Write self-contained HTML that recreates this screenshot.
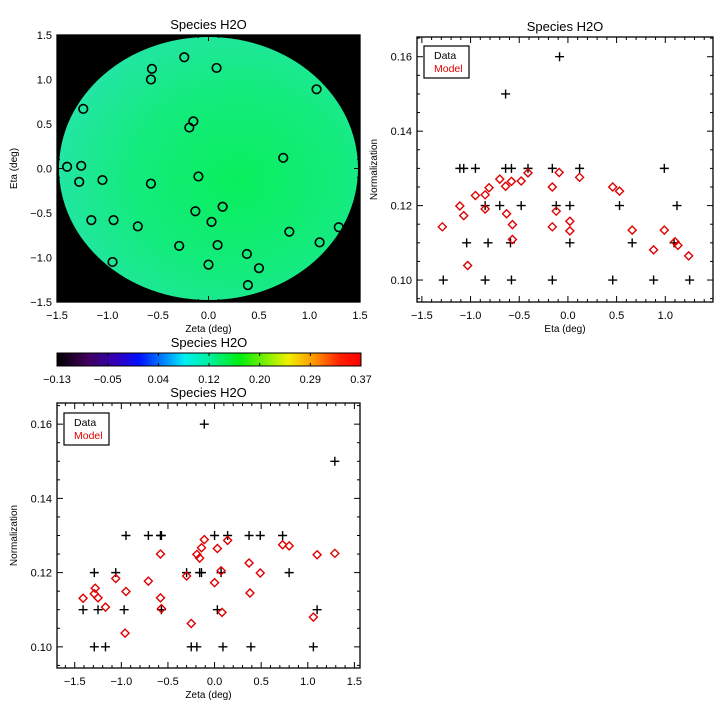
<!DOCTYPE html>
<html><head><meta charset="utf-8">
<style>
html,body{margin:0;padding:0;background:#fff;width:720px;height:720px;overflow:hidden}
svg text{font-family:"Liberation Sans","DejaVu Sans",sans-serif}
</style></head>
<body>
<svg id="root" width="720" height="720" viewBox="0 0 720 720">
<defs>
<radialGradient id="mapgrad" cx="0.6" cy="0.55" r="0.6">
<stop offset="0" stop-color="#08ef5c"/>
<stop offset="0.6" stop-color="#14eb7e"/>
<stop offset="1" stop-color="#22e6a2"/>
</radialGradient>
<linearGradient id="cbgrad" x1="0" x2="1" y1="0" y2="0">
<stop offset="0" stop-color="#000000"/>
<stop offset="0.1" stop-color="#40005a"/>
<stop offset="0.2" stop-color="#3000c0"/>
<stop offset="0.27" stop-color="#0010ff"/>
<stop offset="0.37" stop-color="#00a0ff"/>
<stop offset="0.42" stop-color="#00f0f0"/>
<stop offset="0.5" stop-color="#00f0a0"/>
<stop offset="0.6" stop-color="#00ee10"/>
<stop offset="0.7" stop-color="#90f000"/>
<stop offset="0.76" stop-color="#f0f000"/>
<stop offset="0.85" stop-color="#ff9000"/>
<stop offset="0.93" stop-color="#ff2000"/>
<stop offset="1" stop-color="#ff0000"/>
</linearGradient>
</defs>
</svg>
<script>
// ---- map panel data (star positions) ----
const mapZeta = [-0.24,-0.56,-0.57,0.08,1.07,-1.24,-0.15,-0.19,-1.40,-1.26,-1.28,-1.05,-0.57,-0.10,0.74,-1.16,-0.94,-0.70,-0.13,0.14,0.03,0.80,1.29,1.10,-0.29,0.09,0.38,-0.95,0.00,0.50,0.39];
const mapEta  = [1.25,1.12,1.00,1.13,0.89,0.67,0.53,0.46,0.02,0.03,-0.15,-0.13,-0.17,-0.09,0.12,-0.58,-0.58,-0.65,-0.48,-0.43,-0.60,-0.71,-0.66,-0.83,-0.87,-0.86,-0.96,-1.05,-1.08,-1.12,-1.31];
const mapTicks = [-1.5,-1.0,-0.5,0.0,0.5,1.0,1.5];
const cbLabels = ["-0.13","-0.05","0.04","0.12","0.20","0.29","0.37"];
// ---- eta panel ----
const etaDataX = [-1.28,-1.11,-1.07,-1.04,-0.95,-0.85,-0.85,-0.82,-0.64,-0.58,-0.64,-0.70,-0.59,-0.58,-0.48,-0.41,-0.16,-0.16,-0.12,-0.086,0.02,0.02,0.12,0.46,0.53,0.66,0.88,0.99,1.12,1.09,1.25];
const etaDataY = [0.10,0.13,0.13,0.11,0.13,0.12,0.10,0.11,0.13,0.13,0.15,0.12,0.11,0.10,0.12,0.13,0.13,0.10,0.12,0.16,0.12,0.11,0.13,0.10,0.12,0.11,0.10,0.13,0.12,0.11,0.10];
const etaModelX = [-1.29,-1.11,-1.07,-1.03,-0.95,-0.85,-0.85,-0.81,-0.70,-0.64,-0.63,-0.58,-0.57,-0.57,-0.48,-0.41,-0.16,-0.16,-0.12,-0.09,0.02,0.02,0.12,0.46,0.53,0.66,0.88,0.99,1.10,1.13,1.24];
const etaModelY = [0.1143,0.1199,0.1173,0.1039,0.1227,0.1229,0.1191,0.1248,0.1271,0.1252,0.1178,0.1265,0.1149,0.1109,0.1266,0.1288,0.1250,0.1143,0.1185,0.1289,0.1158,0.1132,0.1276,0.1250,0.1239,0.1134,0.1081,0.1134,0.1103,0.1093,0.1065];
// ---- zeta panel ----
const zetaDataX = [-1.41,-1.29,-1.29,-1.25,-1.17,-1.06,-0.97,-0.95,-0.71,-0.58,-0.57,-0.57,-0.30,-0.25,-0.19,-0.16,-0.14,-0.11,0.00,0.03,0.07,0.09,0.14,0.37,0.39,0.49,0.73,0.80,1.06,1.10,1.29];
const zetaDataY = [0.11,0.12,0.10,0.11,0.10,0.12,0.11,0.13,0.13,0.13,0.11,0.13,0.12,0.10,0.10,0.12,0.12,0.16,0.13,0.11,0.12,0.10,0.13,0.13,0.10,0.13,0.13,0.12,0.10,0.11,0.15];
const zetaModelX = [-1.41,-1.29,-1.28,-1.25,-1.17,-1.06,-0.96,-0.95,-0.71,-0.58,-0.58,-0.57,-0.30,-0.25,-0.19,-0.16,-0.14,-0.11,0.00,0.03,0.07,0.08,0.14,0.37,0.38,0.49,0.73,0.80,1.06,1.10,1.29];
const zetaModelY = [0.1131,0.1143,0.1158,0.1132,0.1107,0.1184,0.1037,0.1149,0.1177,0.1250,0.1132,0.1103,0.1191,0.1063,0.1249,0.1239,0.1267,0.1289,0.1173,0.1265,0.1205,0.1093,0.1287,0.1226,0.1145,0.1199,0.1275,0.1272,0.1080,0.1248,0.1252];
const normTicks = [0.10,0.12,0.14,0.16];
const etaTicks = [-1.5,-1.0,-0.5,0.0,0.5,1.0];
const zetaTicks = [-1.5,-1.0,-0.5,0.0,0.5,1.0,1.5];

const NS="http://www.w3.org/2000/svg";
const root=document.getElementById('root');
function mk(tag,attrs,parent){const e=document.createElementNS(NS,tag);for(const k in attrs)e.setAttribute(k,attrs[k]);(parent||root).appendChild(e);return e;}
function fmt(v,d){return v.toFixed(d).replace('-','\u2212');}
function lin(d0,d1,r0,r1){return v=>r0+(v-d0)*(r1-r0)/(d1-d0);}

function axesBox(x0,y0,x1,y1,sx,sy,xr,yr,xMaj,xMin,yMaj,yMin,yDec,xLab,yLab,title,name){
  const g=mk('g',{});
  
  
  const r=mk('rect',{x:x0,y:y0,width:x1-x0,height:y1-y0,fill:'none',stroke:'#000','stroke-width':1.3},g);
  
  
  for(let v=Math.ceil(xr[0]/xMin-1e-6)*xMin;v<=xr[1]+1e-6;v+=xMin){
    const x=sx(v);const maj=Math.abs(v/xMaj-Math.round(v/xMaj))<1e-3;const L=maj?6:3;
    mk('line',{x1:x,x2:x,y1:y1,y2:y1-L,stroke:'#000','stroke-width':1},g);
    mk('line',{x1:x,x2:x,y1:y0,y2:y0+L,stroke:'#000','stroke-width':1},g);
  }
  for(let v=Math.ceil(yr[0]/yMin-1e-6)*yMin;v<=yr[1]+1e-6;v+=yMin){
    const y=sy(v);const maj=Math.abs(v/yMaj-Math.round(v/yMaj))<1e-3;const L=maj?6:3;
    mk('line',{x1:x0,x2:x0+L,y1:y,y2:y,stroke:'#000','stroke-width':1},g);
    mk('line',{x1:x1,x2:x1-L,y1:y,y2:y,stroke:'#000','stroke-width':1},g);
  }
  xLab.ticks.forEach(v=>{const t=mk('text',{x:sx(v),y:y1+17,'font-size':11,'text-anchor':'middle'},g);t.textContent=fmt(v,1);
    
    });
  yLab.ticks.forEach(v=>{const t=mk('text',{x:x0-5,y:sy(v)+4,'font-size':11,'text-anchor':'end'},g);t.textContent=fmt(v,yDec);
    
    });
  const xt=mk('text',{x:(x0+x1)/2,y:y1+30,'font-size':10,'text-anchor':'middle'},g);xt.textContent=xLab.title;
  
  
  const yt=mk('text',{x:0,y:0,'font-size':10,'text-anchor':'middle',transform:`translate(${yLab.tx},${(y0+y1)/2}) rotate(-90)`},g);yt.textContent=yLab.title;
  
  
  const tt=mk('text',{x:(x0+x1)/2,y:y0-6,'font-size':13,'text-anchor':'middle'},g);tt.textContent=title;
  
  
  return g;
}

// ===== Map panel =====
(function(){
  const x0=57,x1=360,y0=35,y1=302;
  const sx=lin(-1.5,1.5,x0,x1), sy=lin(-1.5,1.5,y1,y0);
  const bg=mk('rect',{x:x0,y:y0,width:x1-x0,height:y1-y0,fill:'#000'});
  
  
  const el=mk('ellipse',{cx:(x0+x1)/2,cy:(y0+y1)/2,rx:(x1-x0)/2-2,ry:(y1-y0)/2-2,fill:'url(#mapgrad)'});
  
  
  const g=axesBox(x0,y0,x1,y1,sx,sy,[-1.5,1.5],[-1.5,1.5],0.5,0.1,0.5,0.1,1,
    {ticks:mapTicks,title:'Zeta (deg)'},{ticks:mapTicks,title:'Eta (deg)',tx:17},'Species H2O','map-plot');
  g.querySelectorAll('line').forEach(l=>l.setAttribute('stroke','#000'));
  mapZeta.forEach((z,i)=>{
    const c=mk('circle',{cx:sx(z),cy:sy(mapEta[i]),r:4.3,fill:'none',stroke:'#000','stroke-width':1.6});
    
    
  });
})();

// ===== Colorbar =====
(function(){
  const x0=57,x1=361,y0=353,y1=366;
  const r=mk('rect',{x:x0,y:y0,width:x1-x0,height:y1-y0,fill:'url(#cbgrad)',stroke:'#000','stroke-width':1});
  
  
  const t=mk('text',{x:(x0+x1)/2,y:347,'font-size':13,'text-anchor':'middle'});t.textContent='Species H2O';
  
  
  cbLabels.forEach((s,i)=>{
    const x=x0+i*(x1-x0)/(cbLabels.length-1);
    mk('line',{x1:x,x2:x,y1:y0,y2:y0+3,stroke:'#000'});
    mk('line',{x1:x,x2:x,y1:y1,y2:y1-3,stroke:'#000'});
    const l=mk('text',{x:x,y:383,'font-size':11,'text-anchor':'middle'});l.textContent=s.replace('-','\u2212');
    
    
  });
})();

function scatter(x0,y0,x1,y1,xr,yr,xTicks,xTitle,dX,dY,mX,mY,leg,name){
  const sx=lin(xr[0],xr[1],x0,x1), sy=lin(yr[0],yr[1],y1,y0);
  axesBox(x0,y0,x1,y1,sx,sy,xr,yr,0.5,0.1,0.02,0.005,2,{ticks:xTicks,title:xTitle},{ticks:normTicks,title:'Normalization',tx:x0-40},'Species H2O',name);
  dX.forEach((v,i)=>{
    const x=sx(v),y=sy(dY[i]);
    const p=mk('path',{d:`M${x-4.5},${y}H${x+4.5}M${x},${y-4.5}V${y+4.5}`,stroke:'#000','stroke-width':1.4});
    
    
  });
  mX.forEach((v,i)=>{
    const x=sx(v),y=sy(mY[i]);
    const p=mk('path',{d:`M${x},${y-4}L${x+4},${y}L${x},${y+4}L${x-4},${y}Z`,stroke:'#e00000',fill:'none','stroke-width':1.4});
    
    
  });
  const lg=mk('g',{});
  
  
  mk('rect',{x:leg[0],y:leg[1],width:45,height:32,fill:'#fff',stroke:'#000','stroke-width':1.2},lg);
  const a=mk('text',{x:leg[0]+10,y:leg[1]+13,'font-size':10.5},lg);a.textContent='Data';
  
  
  const b=mk('text',{x:leg[0]+10,y:leg[1]+26,'font-size':10.5,fill:'#e00000'},lg);b.textContent='Model';
  
  
}
scatter(417,37,713,302,[-1.55,1.49],[0.0941,0.1653],etaTicks,'Eta (deg)',etaDataX,etaDataY,etaModelX,etaModelY,[424,46],'eta-plot');
scatter(57,403,360,668,[-1.69,1.56],[0.0943,0.1657],zetaTicks,'Zeta (deg)',zetaDataX,zetaDataY,zetaModelX,zetaModelY,[64,413],'zeta-plot');
</script>
</body></html>
